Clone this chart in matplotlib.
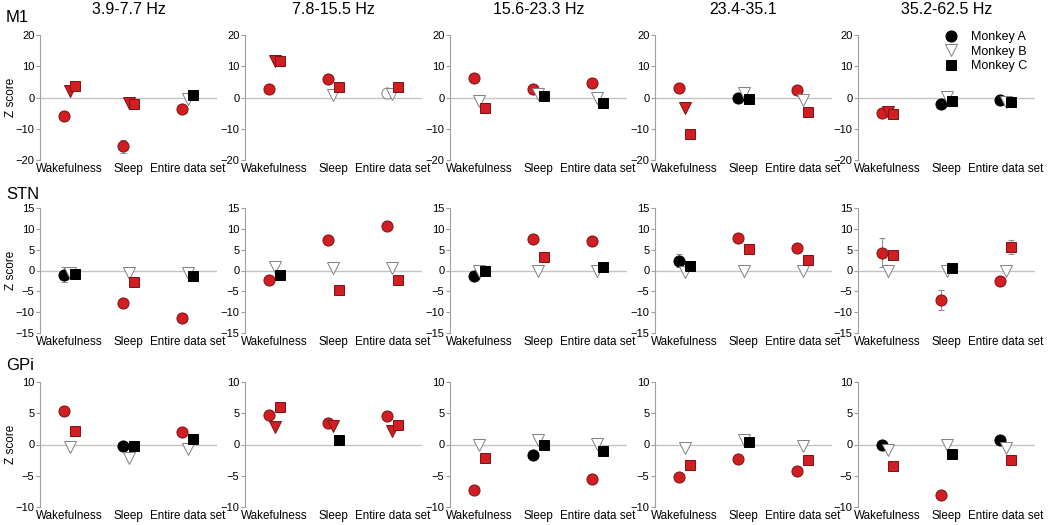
import matplotlib.pyplot as plt
import matplotlib.transforms as mtransforms
from matplotlib.lines import Line2D

plt.rcParams['font.family'] = ['Liberation Sans', 'DejaVu Sans']

conditions = ['Wakefulness', 'Sleep', 'Entire data set']
bands = ['3.9-7.7 Hz', '7.8-15.5 Hz', '15.6-23.3 Hz', '23.4-35.1', '35.2-62.5 Hz']
regions = ['M1', 'STN', 'GPi']
monkeys = ['Monkey A', 'Monkey B', 'Monkey C']

# z scores, one row per band: [wakefulness, sleep, entire data set]
m1_a = [[-6.0, -15.6, -3.8], [2.6, 5.9, 1.3], [6.1, 2.6, 4.8], [3.0, -0.2, 2.5], [-5.0, -2.0, -0.7]]
m1_b = [[2.0, -1.8, -0.6], [11.7, 0.8, 1.2], [-1.2, 1.1, 0.0], [-3.3, 1.6, -0.7], [-4.5, 0.1, -1.5]]
m1_c = [[3.6, -2.1, 0.8], [11.8, 3.3, 3.4], [-3.5, 0.6, -1.9], [-11.8, -0.6, -4.6], [-5.4, -1.0, -1.4]]
stn_a = [[-1.0, -7.9, -11.4], [-2.3, 7.3, 10.6], [-1.3, 7.5, 7.0], [2.4, 7.9, 5.4], [4.3, -7.0, -2.4]]
stn_b = [[-0.7, -0.5, -0.5], [0.9, 0.6, 0.6], [0.0, -0.2, -0.2], [-0.4, -0.2, -0.2], [-0.2, -0.2, -0.1]]
stn_c = [[-0.9, -2.8, -1.4], [-1.0, -4.6, -2.2], [0.0, 3.2, 0.9], [1.0, 5.2, 2.6], [3.8, 0.5, 5.6]]
gpi_a = [[5.35, -0.3, 1.95], [4.8, 3.4, 4.5], [-7.3, -1.7, -5.5], [-5.2, -2.3, -4.2], [0.0, -8.0, 0.7]]
gpi_b = [[-0.4, -2.1, -0.7], [2.8, 2.9, 2.2], [0.0, 0.8, 0.1], [-0.6, 0.8, -0.3], [-0.8, 0.0, -0.5]]
gpi_c = [[2.2, -0.2, 0.9], [6.0, 0.8, 3.1], [-2.2, 0.0, -1.1], [-3.3, 0.4, -2.4], [-3.4, -1.5, -2.4]]

# r = significant (red), k / w = not significant (black / white)
m1_a_sig = ['rrr', 'rrw', 'rrr', 'rkr', 'rkk']
m1_b_sig = ['rrw', 'rww', 'www', 'rww', 'rww']
m1_c_sig = ['rrk', 'rrr', 'rkk', 'rkr', 'rkk']
stn_a_sig = ['krr', 'rrr', 'krr', 'krr', 'rrr']
stn_b_sig = ['www', 'www', 'www', 'www', 'www']
stn_c_sig = ['krk', 'krr', 'krk', 'krr', 'rkr']
gpi_a_sig = ['rkr', 'rrr', 'rkr', 'rrr', 'krk']
gpi_b_sig = ['www', 'rrr', 'www', 'www', 'www']
gpi_c_sig = ['rkk', 'rkr', 'rkk', 'rkr', 'rkr']

# error bars: (region, band, condition, monkey) -> half length
errors = {(0, 0, 1, 0): 2.0, (1, 0, 0, 0): 1.8, (1, 3, 0, 0): 1.5,
          (1, 4, 0, 0): 3.4, (1, 4, 1, 0): 2.4, (1, 4, 2, 2): 1.7}

ylimits = [20, 15, 10]
ysteps = [10, 5, 5]

values = [[m1_a, m1_b, m1_c], [stn_a, stn_b, stn_c], [gpi_a, gpi_b, gpi_c]]
sigs = [[m1_a_sig, m1_b_sig, m1_c_sig], [stn_a_sig, stn_b_sig, stn_c_sig],
        [gpi_a_sig, gpi_b_sig, gpi_c_sig]]

markers = ['o', 'v', 's']
msizes = [8, 8.5, 7.5]
offsets = [-0.1, 0.0, 0.1]
fills = {'r': ('#d21e22', '#7a1414'), 'k': ('black', 'black'), 'w': ('white', '#808080')}

fig = plt.figure(figsize=(10.5, 5.25), dpi=100)
W, H = 1050, 525
ax_left = [40, 245, 450, 655, 858]
ax_top = [35, 208, 382]
axw, axh = 177, 125
# category labels sit a little right of the markers in the original
label_shift = mtransforms.ScaledTranslation(3 / 100, 0, fig.dpi_scale_trans)

for r in range(3):
    for b in range(5):
        ax = fig.add_axes([ax_left[b] / W, 1 - (ax_top[r] + axh) / H, axw / W, axh / H])
        ax.axhline(0, color='#c4c4c4', lw=1, zorder=0)
        for m in range(3):
            for c in range(3):
                x = c + 1 + offsets[m]
                y = values[r][m][b][c]
                fc, ec = fills[sigs[r][m][b][c]]
                err = errors.get((r, b, c, m))
                if err:
                    ax.errorbar(x, y, yerr=err, fmt='none', ecolor='#909090',
                                elinewidth=0.8, capsize=2, capthick=0.8, zorder=1)
                ax.plot(x, y, marker=markers[m], ms=msizes[m], mfc=fc, mec=ec,
                        mew=0.7, ls='none', zorder=2 + m)
        lim = ylimits[r]
        ax.set_ylim(-lim, lim)
        ax.set_xlim(0.5, 3.5)
        ax.set_yticks(range(-lim, lim + 1, ysteps[r]))
        ax.set_xticks([1, 2, 3])
        ax.set_xticklabels(conditions)
        for lab in ax.get_xticklabels():
            lab.set_transform(lab.get_transform() + label_shift)
        for s in ['top', 'right', 'bottom']:
            ax.spines[s].set_visible(False)
        ax.spines['left'].set_color('#a0a0a0')
        ax.tick_params(axis='y', length=3, color='#a0a0a0', labelsize=8, pad=1)
        ax.tick_params(axis='x', length=0, labelsize=8.4, pad=2)
        if b == 0:
            ax.set_ylabel('Z score', fontsize=8.5)
            ax.yaxis.set_label_coords(-0.13, 0.5)
        if r == 0:
            fig.text((ax_left[b] + axw / 2) / W, 1 - 10 / H, bands[b],
                     fontsize=11.5, ha='center', va='center')
        if r == 0 and b == 4:
            handles = [Line2D([], [], marker=markers[i], ms=msizes[i], ls='none',
                              mfc=['black', 'white', 'black'][i],
                              mec=['black', '#808080', 'black'][i], mew=0.7)
                       for i in range(3)]
            ax.legend(handles, monkeys, loc='upper right', bbox_to_anchor=(1.0, 1.09),
                      frameon=False, fontsize=9, handletextpad=0.6,
                      labelspacing=0.2, borderaxespad=0.2)

for r in range(3):
    fig.text(6 / W, 1 - [17, 194, 366][r] / H, regions[r], fontsize=12, va='center')

fig.savefig('out.png', dpi=100)
